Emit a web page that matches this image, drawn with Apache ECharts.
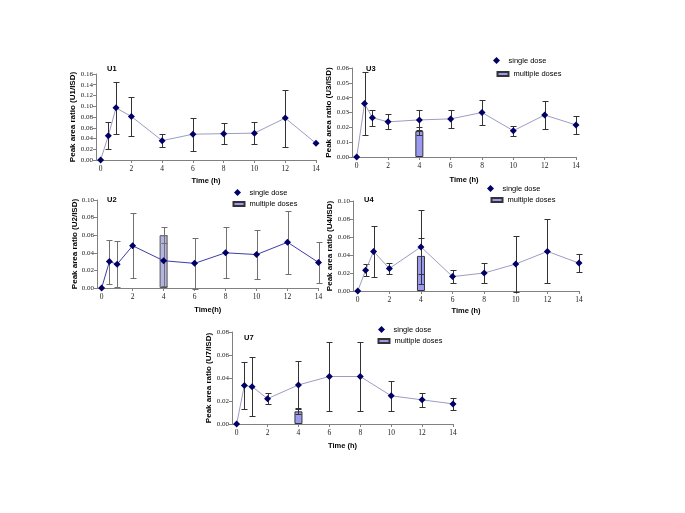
<!DOCTYPE html>
<html>
<head>
<meta charset="utf-8">
<script src="https://cdn.jsdelivr.net/npm/echarts@6/dist/echarts.min.js"></script>
<style>html,body{margin:0;padding:0;background:#fff}#c{width:685px;height:513px}</style>
</head>
<body>
<div id="c"></div>
<script>
// ---------- data ----------
const times = [0, 0.5, 1, 2, 4, 6, 8, 10, 12, 14];
const xTickValues = [0, 2, 4, 6, 8, 10, 12, 14];

const u1Mean = [0, 0.045, 0.097, 0.081, 0.036, 0.048, 0.049, 0.050, 0.078, 0.031];
const u1Sd   = [0, 0.025, 0.049, 0.036, 0.012, 0.031, 0.020, 0.020, 0.053, 0];

const u3Mean = [0, 0.036, 0.0265, 0.0237, 0.025, 0.0257, 0.030, 0.0177, 0.0283, 0.0216];
const u3Sd   = [0, 0.021, 0.0055, 0.005, 0.0068, 0.0062, 0.0086, 0.0033, 0.0094, 0.006];
const u3MultiTime = [4], u3MultiMean = [0.0175], u3MultiSd = [0.003];

const u2Mean = [0, 0.030, 0.027, 0.048, 0.031, 0.028, 0.040, 0.038, 0.052, 0.029];
const u2Sd   = [0, 0.025, 0.026, 0.037, 0.029, 0.029, 0.029, 0.028, 0.036, 0.0235];
const u2MultiTime = [4], u2MultiMean = [0.060], u2MultiSd = [0.009];

const u4Mean = [0, 0.023, 0.044, 0.025, 0.049, 0.016, 0.020, 0.030, 0.044, 0.031];
const u4Sd   = [0, 0.0067, 0.028, 0.006, 0.041, 0.0073, 0.0107, 0.031, 0.0355, 0.0101];
const u4MultiTime = [4], u4MultiMean = [0.039], u4MultiSd = [0.020];

const u7Mean = [0, 0.0335, 0.0325, 0.022, 0.034, 0.0413, 0.0413, 0.0245, 0.021, 0.0175];
const u7Sd   = [0, 0.0205, 0.0256, 0.0047, 0.021, 0.0298, 0.0297, 0.0133, 0.0058, 0.0055];
const u7MultiTime = [4], u7MultiMean = [0.011], u7MultiSd = [0.0025];

const yMax = {U1: 0.16, U3: 0.06, U2: 0.10, U4: 0.10, U7: 0.08};
const yStep = {U1: 0.02, U3: 0.01, U2: 0.02, U4: 0.02, U7: 0.02};

// ---------- layout / style ----------
const panels = [
  {id:'U1', mean:u1Mean, sd:u1Sd, grid:{left:96, top:74, width:220, height:86},
   line:'#9c9cc4', err:'#333', xName:'Time (h)', xGap:17, yGap:19, title:[107,65], legend:null},
  {id:'U3', mean:u3Mean, sd:u3Sd, mt:u3MultiTime, mm:u3MultiMean, ms:u3MultiSd,
   grid:{left:352, top:68, width:224, height:89},
   line:'#9c9cc4', err:'#333', xName:'Time (h)', xGap:19, yGap:19, title:[366,65],
   legend:[500,60,502,72], bar:'#9a9af0', barBorder:'#333'},
  {id:'U2', mean:u2Mean, sd:u2Sd, mt:u2MultiTime, mm:u2MultiMean, ms:u2MultiSd,
   grid:{left:97, top:200, width:221.5, height:88},
   line:'#3c3caa', err:'#707070', xName:'Time(h)', xGap:18, yGap:18, title:[107,196],
   legend:[241,192,238,202], bar:'#b4b4e0', barBorder:'#555'},
  {id:'U4', mean:u4Mean, sd:u4Sd, mt:u4MultiTime, mm:u4MultiMean, ms:u4MultiSd,
   grid:{left:353, top:201, width:226, height:90},
   line:'#9c9cc4', err:'#333', xName:'Time (h)', xGap:16, yGap:19, title:[364,196],
   legend:[494,188,496,198], bar:'#9a9af0', barBorder:'#333'},
  {id:'U7', mean:u7Mean, sd:u7Sd, mt:u7MultiTime, mm:u7MultiMean, ms:u7MultiSd,
   grid:{left:232, top:332, width:221, height:92},
   line:'#9c9cc4', err:'#333', xName:'Time (h)', xGap:18, yGap:19, title:[244,334],
   legend:[385,329,383,339], bar:'#9a9af0', barBorder:'#333'}
];

const DIAMOND = 'path://M0,-1L1,0L0,1L-1,0Z';
const sans = 'Liberation Sans, Arial, sans-serif';
const serif = 'Liberation Serif, Times New Roman, serif';

function makeErr(color) {
  return function (params, api) {
    const x = api.value(0), lo = api.value(1), hi = api.value(2);
    if (hi === lo) return null;
    const t = api.coord([x, hi]), b = api.coord([x, lo]);
    const px = Math.round(t[0]) + 0.5, ty = Math.round(t[1]) + 0.5, by = Math.round(b[1]) + 0.5;
    const st = {stroke: color, lineWidth: 1};
    return {type: 'group', children: [
      {type: 'line', shape: {x1: px, y1: ty, x2: px, y2: by}, style: st},
      {type: 'line', shape: {x1: px - 3, y1: ty, x2: px + 3, y2: ty}, style: st},
      {type: 'line', shape: {x1: px - 3, y1: by, x2: px + 3, y2: by}, style: st}
    ]};
  };
}

const option = {
  animation: false,
  backgroundColor: '#fff',
  grid: [], xAxis: [], yAxis: [], series: [], title: [], legend: []
};

panels.forEach((p, i) => {
  option.grid.push(Object.assign({containLabel: false}, p.grid));
  option.xAxis.push({
    type: 'value', gridIndex: i, min: -0.3, max: 14,
    name: p.xName, nameLocation: 'middle', nameGap: p.xGap, nameMoveOverlap: false,
    nameTextStyle: {fontFamily: sans, fontWeight: 'bold', fontSize: 7.5, color: '#000'},
    axisLine: {lineStyle: {color: '#808080', width: 1}},
    axisTick: {show: true, length: 3, customValues: xTickValues, lineStyle: {color: '#808080'}},
    axisLabel: {customValues: xTickValues, fontFamily: serif, fontSize: 7.5, color: '#222', margin: 5},
    splitLine: {show: false}
  });
  option.yAxis.push({
    type: 'value', gridIndex: i, min: 0, max: yMax[p.id], interval: yStep[p.id],
    name: 'Peak area ratio (' + p.id + '/ISD)', nameLocation: 'middle', nameGap: p.yGap,
    nameMoveOverlap: false,
    nameTextStyle: {fontFamily: sans, fontWeight: 'bold', fontSize: 8, color: '#000'},
    axisLine: {show: true, onZero: false, lineStyle: {color: '#808080', width: 1}},
    axisTick: {show: true, length: 3, lineStyle: {color: '#808080'}},
    axisLabel: {fontFamily: serif, fontSize: 7, color: '#222', margin: 3,
      formatter: v => v.toFixed(2)},
    splitLine: {show: false}
  });
  option.title.push({
    text: p.id, left: p.title[0], top: p.title[1], padding: 0,
    textStyle: {fontFamily: sans, fontWeight: 'bold', fontSize: 7.5, color: '#000'}
  });

  if (p.mt) {
    option.series.push({
      name: 'multiple doses', type: 'bar', xAxisIndex: i, yAxisIndex: i,
      barWidth: 8, z: 1,
      itemStyle: {color: p.bar, borderColor: p.barBorder, borderWidth: 1},
      data: p.mt.map((t, k) => [t, p.mm[k]])
    });
    option.series.push({
      name: 'multiple err', type: 'custom', xAxisIndex: i, yAxisIndex: i, z: 2,
      renderItem: makeErr(p.err), encode: {x: 0, y: [1, 2]},
      data: p.mt.map((t, k) => [t, p.mm[k] - p.ms[k], p.mm[k] + p.ms[k]])
    });
  }
  option.series.push({
    name: 'single err', type: 'custom', xAxisIndex: i, yAxisIndex: i, z: 3,
    renderItem: makeErr(p.err), encode: {x: 0, y: [1, 2]},
    data: times.map((t, k) => [t, p.mean[k] - p.sd[k], p.mean[k] + p.sd[k]])
  });
  option.series.push({
    name: 'single dose', type: 'line', xAxisIndex: i, yAxisIndex: i, z: 4,
    symbol: 'diamond', symbolSize: 7,
    itemStyle: {color: '#000066'},
    lineStyle: {color: p.line, width: 1},
    data: times.map((t, k) => [t, p.mean[k]])
  });

  if (p.legend) {
    const L = p.legend;
    option.legend.push({
      data: ['single dose'], left: L[0] - 7, top: L[1] - 3.5, padding: 0,
      itemWidth: 14, itemHeight: 7, icon: DIAMOND, symbolKeepAspect: true,
      selectedMode: false,
      textStyle: {fontFamily: sans, fontSize: 7.5, color: '#000'}
    });
    option.legend.push({
      data: ['multiple doses'], left: L[2] - 5.5, top: L[3] - 2, padding: 0,
      itemWidth: 11, itemHeight: 4, icon: 'rect', selectedMode: false,
      textStyle: {fontFamily: sans, fontSize: 7.5, color: '#000'}
    });
  }
});

const chart = echarts.init(document.getElementById('c'), null, {renderer: 'canvas'});
chart.setOption(option);
</script>
</body>
</html>
